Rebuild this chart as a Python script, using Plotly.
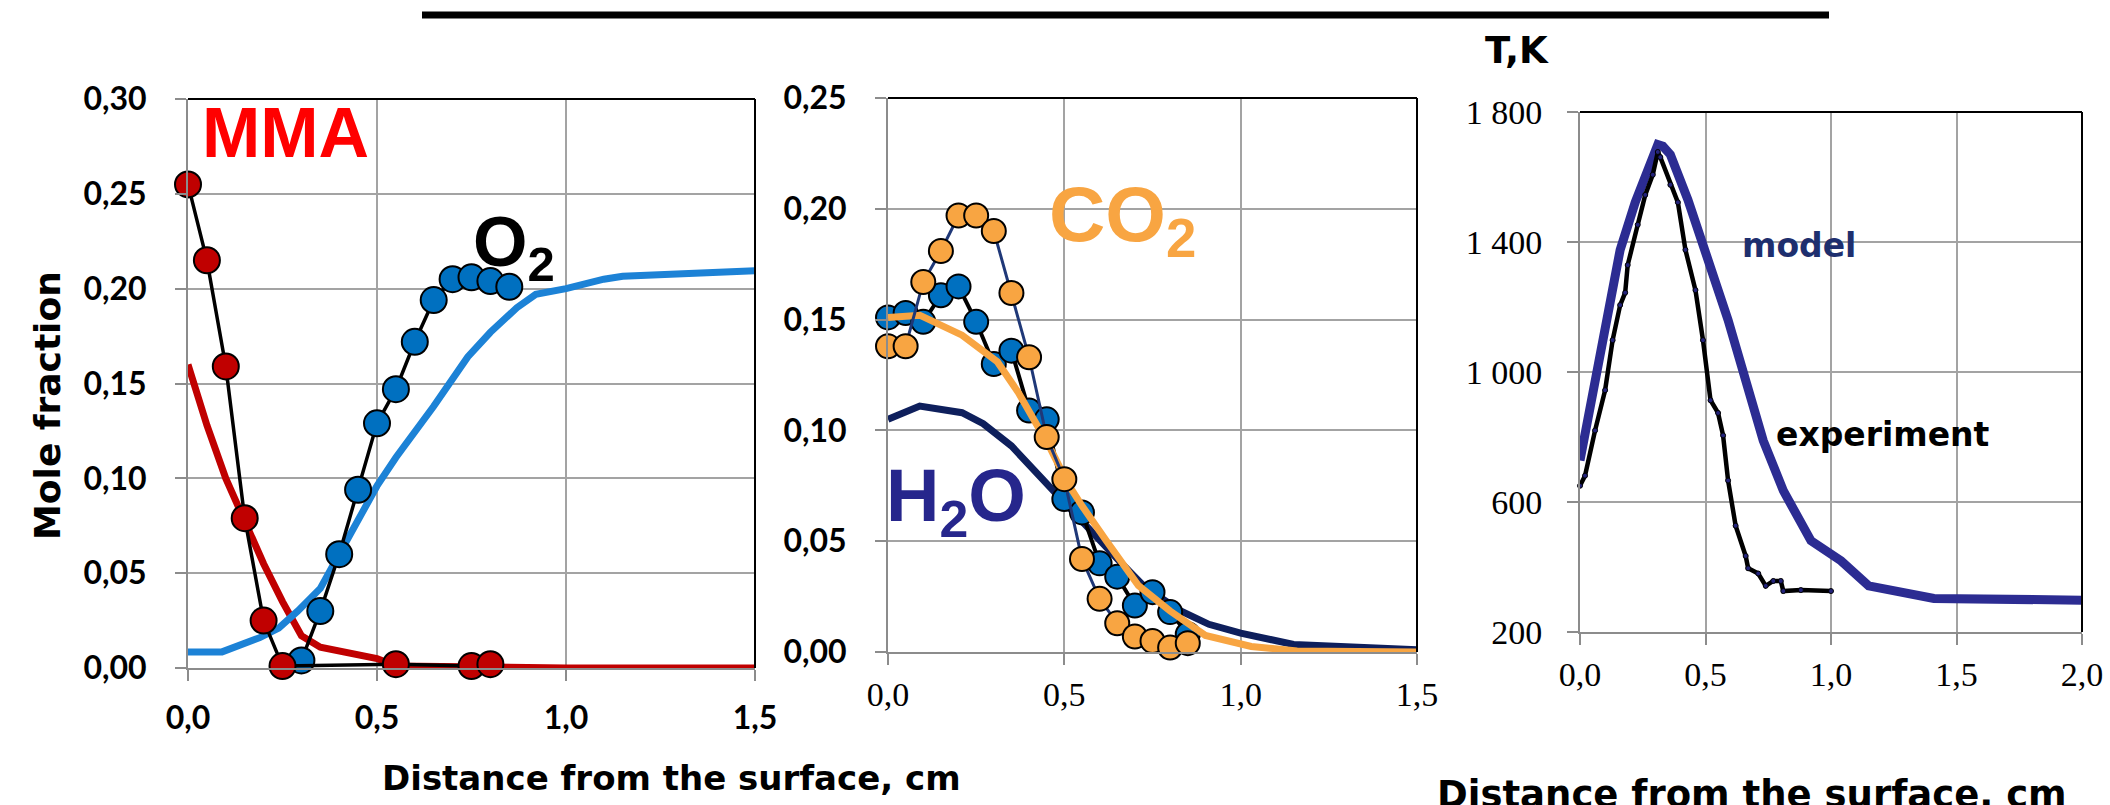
import plotly.graph_objects as go

# ---------------- data ----------------
# Panel 1: MMA and O2 mole fractions
mma_exp_x = [0.0, 0.05, 0.10, 0.15, 0.20, 0.25, 0.55, 0.75, 0.80]
mma_exp_y = [0.255, 0.215, 0.159, 0.079, 0.025, 0.001, 0.002, 0.001, 0.002]
o2_exp_x = [0.30, 0.35, 0.40, 0.45, 0.50, 0.55, 0.60, 0.65, 0.70, 0.75, 0.80, 0.85]
o2_exp_y = [0.004, 0.030, 0.060, 0.094, 0.129, 0.147, 0.172, 0.194, 0.205, 0.206, 0.204, 0.201]
mma_model_x = [0.0, 0.05, 0.10, 0.15, 0.20, 0.25, 0.30, 0.35, 0.40, 0.50, 0.55, 0.70, 1.00, 1.50]
mma_model_y = [0.160, 0.128, 0.100, 0.077, 0.055, 0.035, 0.017, 0.011, 0.009, 0.005, 0.001, 0.0005, 0.0, 0.0]
o2_model_x = [0.0, 0.09, 0.19, 0.24, 0.29, 0.35, 0.40, 0.45, 0.50, 0.55, 0.65, 0.74, 0.80, 0.87, 0.92, 1.00, 1.10, 1.15, 1.50]
o2_model_y = [0.0085, 0.0085, 0.016, 0.021, 0.030, 0.042, 0.060, 0.078, 0.096, 0.111, 0.138, 0.164, 0.177, 0.190, 0.197, 0.200, 0.205, 0.2065, 0.2095]

# Panel 2: CO2 and H2O mole fractions
p2_exp_x = [0.0, 0.05, 0.10, 0.15, 0.20, 0.25, 0.30, 0.35, 0.40, 0.45, 0.50, 0.55, 0.60, 0.65, 0.70, 0.75, 0.80, 0.85]
co2_exp_y = [0.138, 0.138, 0.167, 0.181, 0.197, 0.197, 0.190, 0.162, 0.133, 0.097, 0.078, 0.042, 0.024, 0.013, 0.007, 0.005, 0.002, 0.004]
h2o_exp_y = [0.151, 0.153, 0.149, 0.161, 0.165, 0.149, 0.130, 0.136, 0.109, 0.105, 0.069, 0.063, 0.040, 0.034, 0.021, 0.027, 0.018, 0.008]
co2_model_x = [0.0, 0.09, 0.21, 0.31, 0.37, 0.42, 0.46, 0.51, 0.55, 0.62, 0.71, 0.80, 0.90, 1.03, 1.16, 1.50]
co2_model_y = [0.151, 0.152, 0.143, 0.131, 0.117, 0.103, 0.092, 0.076, 0.066, 0.050, 0.030, 0.0185, 0.0075, 0.0025, 0.0005, 0.0]
h2o_model_x = [0.0, 0.09, 0.21, 0.27, 0.35, 0.42, 0.50, 0.57, 0.65, 0.73, 0.83, 0.91, 1.00, 1.15, 1.50]
h2o_model_y = [0.105, 0.111, 0.108, 0.103, 0.093, 0.081, 0.068, 0.055, 0.042, 0.029, 0.0185, 0.0125, 0.0085, 0.0034, 0.001]

# Panel 3: temperature
t_model_x = [0.0, 0.06, 0.11, 0.16, 0.22, 0.27, 0.31, 0.33, 0.36, 0.43, 0.50, 0.59, 0.73, 0.81, 0.92, 1.04, 1.15, 1.41, 2.0]
t_model_y = [728, 974, 1190, 1376, 1522, 1620, 1700, 1695, 1669, 1530, 1360, 1160, 789, 635, 481, 419, 342, 303, 298]
t_exp_x = [0.0, 0.02, 0.06, 0.10, 0.13, 0.16, 0.18, 0.19, 0.23, 0.26, 0.29, 0.31, 0.32, 0.36, 0.39, 0.42,
           0.46, 0.49, 0.52, 0.55, 0.57, 0.59, 0.62, 0.66, 0.67, 0.71, 0.74, 0.77, 0.80, 0.81, 0.88, 1.00]
t_exp_y = [650, 681, 820, 944, 1098, 1206, 1244, 1329, 1453, 1545, 1607, 1677, 1661, 1576, 1522, 1376,
           1252, 1098, 913, 874, 805, 666, 527, 434, 396, 380, 342, 357, 357, 326, 329, 326]

x_title = "Distance from the surface, cm"
y_title = "Mole fraction"
t_title = "T,K"

# ---------------- styles ----------------
RED_M = "#c00000"
BLUE_M = "#0070c0"
BLUE_L = "#1c82d6"
ORANGE = "#f8a542"
NAVY = "#0e1f5c"
INDIGO = "#2c2c92"
GRID = "#a3a3a3"
AXC = "#8c8c8c"
COMIC = "DejaVu Sans, Noto Sans, sans-serif"
SANS_B = dict(family="Lato, Liberation Sans, sans-serif", size=32, color="black", weight="bold")
SERIF = dict(family="Liberation Serif, DejaVu Serif, serif", size=34, color="black")

fig = go.Figure()

def line_tr(x, y, color, width, xa, ya):
    fig.add_trace(go.Scatter(x=x, y=y, mode="lines", line=dict(color=color, width=width),
                             xaxis=xa, yaxis=ya, cliponaxis=False, hoverinfo="skip"))

def exp_tr(x, y, lcolor, lwidth, mcolor, msize, xa, ya):
    fig.add_trace(go.Scatter(x=x, y=y, mode="lines+markers", line=dict(color=lcolor, width=lwidth),
                             marker=dict(size=msize, color=mcolor, line=dict(color="black", width=2)),
                             xaxis=xa, yaxis=ya, cliponaxis=False, hoverinfo="skip"))

# panel 1
line_tr(mma_model_x, mma_model_y, RED_M, 7, "x", "y")
line_tr(o2_model_x, o2_model_y, BLUE_L, 7, "x", "y")
exp_tr(o2_exp_x, o2_exp_y, "black", 3.5, BLUE_M, 26, "x", "y")
exp_tr(mma_exp_x, mma_exp_y, "black", 3.5, RED_M, 26, "x", "y")

# panel 2
line_tr(h2o_model_x, h2o_model_y, NAVY, 7, "x2", "y2")
exp_tr(p2_exp_x, h2o_exp_y, "black", 4, BLUE_M, 24, "x2", "y2")
line_tr(co2_model_x, co2_model_y, ORANGE, 7, "x2", "y2")
exp_tr(p2_exp_x, co2_exp_y, "#1f3878", 3, ORANGE, 24, "x2", "y2")

# panel 3
line_tr(t_model_x, t_model_y, INDIGO, 9, "x3", "y3")
fig.add_trace(go.Scatter(x=t_exp_x, y=t_exp_y, mode="lines+markers",
                         line=dict(color="black", width=4.5),
                         marker=dict(size=5, color="#23237a", line=dict(color="black", width=1)),
                         xaxis="x3", yaxis="y3", cliponaxis=False, hoverinfo="skip"))

W, H = 2110, 805

def axis(domain, rng, dtick, fmt, font, standoff, tick0=0):
    return dict(domain=domain, range=rng, dtick=dtick, tick0=tick0, tickformat=fmt,
                showgrid=True, gridcolor=GRID, gridwidth=2, showline=True, linecolor=AXC,
                linewidth=2, ticks="outside", ticklen=11, tickwidth=2, tickcolor=AXC,
                zeroline=False, tickfont=font, ticklabelstandoff=standoff, fixedrange=True,
                automargin=False)

def xd(a, b):
    return [a / W, b / W]

def yd(top, bottom):
    return [1 - bottom / H, 1 - top / H]

fig.update_layout(
    width=W, height=H, margin=dict(l=0, r=0, t=0, b=0, pad=0, autoexpand=False),
    paper_bgcolor="white", plot_bgcolor="white", showlegend=False, separators=", ",
    xaxis=axis(xd(188, 755), [0, 1.5], 0.5, ".1f", SANS_B, 10) | dict(anchor="y"),
    yaxis=axis(yd(99, 668), [0, 0.30002], 0.05, ".2f", SANS_B, 22) | dict(anchor="x"),
    xaxis2=axis(xd(888, 1417), [0, 1.5], 0.5, ".1f", SERIF, 0) | dict(anchor="y2"),
    yaxis2=axis(yd(98, 652), [0, 0.25002], 0.05, ".2f", SANS_B, 22) | dict(anchor="x2"),
    xaxis3=axis(xd(1580, 2082), [0, 2.0], 0.5, ".1f", SERIF, 0) | dict(anchor="y3"),
    yaxis3=axis(yd(112, 632), [200, 1800], 400, ",d", SERIF, 18, tick0=200) | dict(anchor="x3"),
)

shapes = []
for xa, ya in [("x", "y"), ("x2", "y2"), ("x3", "y3")]:
    shapes.append(dict(type="line", xref=f"{xa} domain", yref=f"{ya} domain", x0=0, x1=1, y0=1, y1=1,
                       line=dict(color="black", width=2)))
    shapes.append(dict(type="line", xref=f"{xa} domain", yref=f"{ya} domain", x0=1, x1=1, y0=0, y1=1,
                       line=dict(color="black", width=2)))
# title underline at the top
shapes.append(dict(type="line", xref="paper", yref="paper", x0=422 / W, x1=1829 / W,
                   y0=1 - 15 / H, y1=1 - 15 / H, line=dict(color="black", width=7)))
fig.update_layout(shapes=shapes)

def ann(text, x, y, xref, yref, size, color, family="Liberation Sans, Arial, sans-serif",
        xanchor="center", yanchor="middle", angle=0):
    fig.add_annotation(text=text, x=x, y=y, xref=xref, yref=yref, showarrow=False,
                       xanchor=xanchor, yanchor=yanchor, textangle=angle,
                       font=dict(family=family, size=size, color=color, weight="bold"))

ann("MMA", 0.257, 0.282, "x", "y", 70, "#ff0000")
ann("O<sub>2</sub>", 0.862, 0.222, "x", "y", 70, "black")
ann("CO<sub>2</sub>", 0.666, 0.195, "x2", "y2", 78, ORANGE)
ann("H<sub>2</sub>O", 0.193, 0.068, "x2", "y2", 74, "#26268c")
ann("model", 0.873, 1388, "x3", "y3", 33, "#1e2f6e", family=COMIC)
ann("experiment", 1.207, 809, "x3", "y3", 33, "black", family=COMIC)
ann(t_title, 1517 / W, 1 - 50 / H, "paper", "paper", 37, "black", family=COMIC)
ann(y_title, 47 / W, 1 - 406 / H, "paper", "paper", 36, "black", family=COMIC, angle=-90)
ann(x_title, 671 / W, 1 - 778 / H, "paper", "paper", 34, "black", family=COMIC)
ann(x_title, 1752 / W, 1 - 771 / H, "paper", "paper", 37, "black", family=COMIC, yanchor="top")

fig.write_html("out.html")
